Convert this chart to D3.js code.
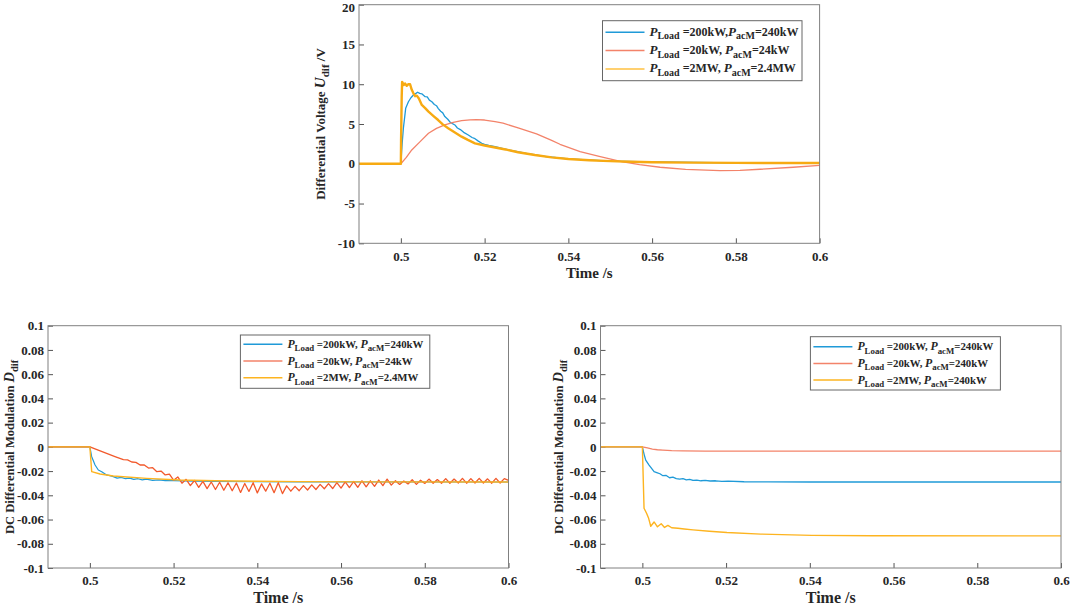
<!DOCTYPE html>
<html>
<head>
<meta charset="utf-8">
<script src="https://cdn.jsdelivr.net/npm/d3@7"></script>
<style>
body { margin: 0; background: #fff; }
text { font-family: "Liberation Serif", "Times New Roman", serif; font-weight: bold; fill: #262626; }
</style>
</head>
<body>
<script>

/* ticks */
var timeTicks = [0.5, 0.52, 0.54, 0.56, 0.58, 0.6];
var voltTicks = [-10, -5, 0, 5, 10, 15, 20];
var dutyTicks = [-0.1, -0.08, -0.06, -0.04, -0.02, 0, 0.02, 0.04, 0.06, 0.08, 0.1];

/* legend text: [P_Load, P_acM] */
var legendTop = [["200kW", "240kW"], ["20kW", "24kW"], ["2MW", "2.4MW"]];
var legendLeft = [["200kW", "240kW"], ["20kW", "24kW"], ["2MW", "2.4MW"]];
var legendRight = [["200kW", "240kW"], ["20kW", "240kW"], ["2MW", "240kW"]];

/* top chart: differential voltage U_dif (V) */
var uBlueT = [0.49, 0.5, 0.5003, 0.5006, 0.50115, 0.5018, 0.5024, 0.503, 0.5036, 0.504, 0.5045, 0.505, 0.5058, 0.5063, 0.5068, 0.5074, 0.508, 0.5085, 0.5089, 0.5095, 0.51, 0.5105, 0.5112, 0.5118, 0.5129, 0.5135, 0.5142, 0.515, 0.5161, 0.517, 0.5177, 0.5185, 0.5193, 0.52, 0.521, 0.5225, 0.5244, 0.526, 0.53, 0.535, 0.54, 0.55, 0.56, 0.58, 0.6];
var uBlueV = [0, 0, 2.5, 4.46, 6.97, 7.8, 8.3, 8.65, 8.85, 8.99, 8.85, 8.8, 8.44, 8.4, 8.0, 7.8, 7.45, 7.3, 6.97, 6.6, 6.4, 5.93, 5.6, 5.2, 4.88, 4.5, 4.3, 3.95, 3.62, 3.3, 3.15, 2.85, 2.57, 2.45, 2.3, 2.15, 1.9, 1.7, 1.3, 0.88, 0.62, 0.34, 0.22, 0.12, 0.1];

var uRedT = [0.49, 0.5, 0.5013, 0.5026, 0.5046, 0.5066, 0.5085, 0.5105, 0.5125, 0.5145, 0.5165, 0.518, 0.52, 0.5225, 0.5244, 0.528, 0.5324, 0.536, 0.538, 0.5428, 0.5476, 0.5527, 0.557, 0.5619, 0.568, 0.5762, 0.581, 0.5858, 0.5937, 0.6];
var uRedV = [0, 0, 0.8, 1.74, 2.78, 3.83, 4.45, 4.88, 5.2, 5.42, 5.53, 5.56, 5.5, 5.3, 5.1, 4.5, 3.75, 2.95, 2.45, 1.52, 0.9, 0.27, -0.12, -0.44, -0.7, -0.86, -0.82, -0.69, -0.44, -0.19];

var uYellowT = [0.49, 0.5, 0.50005, 0.5002, 0.5003, 0.5007, 0.501, 0.5014, 0.5018, 0.5022, 0.5026, 0.503, 0.5034, 0.5038, 0.5043, 0.505, 0.5058, 0.5066, 0.5078, 0.5089, 0.51, 0.5113, 0.513, 0.5145, 0.516, 0.5177, 0.52, 0.5225, 0.525, 0.528, 0.532, 0.536, 0.54, 0.545, 0.55, 0.555, 0.56, 0.57, 0.58, 0.59, 0.6];
var uYellowV = [0, 0, 3, 8.5, 10.3, 9.9, 10.1, 9.8, 10.0, 10.0, 9.3, 8.86, 8.5, 8.57, 8.2, 7.4, 7.0, 6.55, 6.0, 5.5, 4.95, 4.46, 3.9, 3.41, 3.0, 2.57, 2.3, 2.05, 1.8, 1.45, 1.1, 0.8, 0.6, 0.45, 0.33, 0.26, 0.2, 0.14, 0.11, 0.1, 0.1];

/* bottom left: D_dif, different loads and P_acM */
var dLBlueT = [0.49, 0.5, 0.50044, 0.50124, 0.50202, 0.50283, 0.504, 0.5048, 0.5056, 0.5065, 0.5075, 0.5085, 0.5095, 0.5105, 0.5115, 0.5125, 0.5135, 0.515, 0.5165, 0.518, 0.52, 0.525, 0.53, 0.54, 0.55, 0.6];
var dLBlueV = [0, 0, -0.0081, -0.015, -0.0191, -0.0205, -0.0232, -0.0238, -0.0246, -0.0258, -0.0252, -0.0263, -0.0258, -0.0268, -0.0263, -0.0272, -0.0267, -0.0276, -0.0272, -0.0279, -0.0278, -0.0283, -0.0286, -0.0288, -0.0289, -0.029];

var dLRedT = [0.49, 0.5, 0.502, 0.504, 0.506, 0.508, 0.509, 0.51, 0.511, 0.512, 0.513, 0.514, 0.515, 0.516, 0.517, 0.518, 0.519,
  0.52, 0.521, 0.522, 0.523, 0.524, 0.525, 0.526, 0.527, 0.528, 0.529,
  0.53, 0.531, 0.532, 0.533, 0.534, 0.535, 0.536, 0.537, 0.538, 0.539,
  0.54, 0.541, 0.542, 0.543, 0.544, 0.545, 0.546, 0.547, 0.548, 0.549,
  0.55, 0.551, 0.552, 0.553, 0.554, 0.555, 0.556, 0.557, 0.558, 0.559,
  0.56, 0.561, 0.562, 0.563, 0.564, 0.565, 0.566, 0.567, 0.568, 0.569,
  0.57, 0.571, 0.572, 0.573, 0.574, 0.575, 0.576, 0.577, 0.578, 0.579,
  0.58, 0.581, 0.582, 0.583, 0.584, 0.585, 0.586, 0.587, 0.588, 0.589,
  0.59, 0.591, 0.592, 0.593, 0.594, 0.595, 0.596, 0.597, 0.598, 0.599, 0.6];
var dLRedV = [0, 0, -0.0027, -0.0054, -0.008, -0.0105, -0.0108, -0.0125, -0.0128, -0.015, -0.015, -0.0175, -0.0172, -0.0205, -0.02, -0.0232, -0.0225,
  -0.0275, -0.0248, -0.03, -0.0268, -0.032, -0.0278, -0.0335, -0.0285, -0.0345, -0.029,
  -0.0352, -0.0292, -0.0358, -0.0296, -0.0362, -0.0298, -0.0376, -0.0302, -0.0368, -0.0296,
  -0.038, -0.0306, -0.0366, -0.03, -0.0378, -0.0296, -0.0386, -0.0322, -0.0366, -0.0326,
  -0.0362, -0.032, -0.0356, -0.0314, -0.0352, -0.031, -0.0346, -0.0304, -0.0344, -0.0296,
  -0.034, -0.029, -0.0336, -0.0286, -0.0334, -0.028, -0.033, -0.028, -0.0326, -0.0274,
  -0.032, -0.0266, -0.0316, -0.028, -0.031, -0.0282, -0.0306, -0.0272, -0.031, -0.0276,
  -0.0302, -0.0266, -0.03, -0.027, -0.03, -0.0262, -0.03, -0.0266, -0.0298, -0.026,
  -0.03, -0.0262, -0.0298, -0.026, -0.0298, -0.0264, -0.03, -0.026, -0.0298, -0.0262, -0.0276];

var dLYellowT = [0.49, 0.5, 0.50044, 0.50242, 0.5056, 0.51358, 0.52153, 0.53, 0.54, 0.55, 0.57, 0.6];
var dLYellowV = [0, 0, -0.0205, -0.0224, -0.0241, -0.026, -0.0274, -0.028, -0.0284, -0.0287, -0.0289, -0.029];

/* bottom right: D_dif, same P_acM */
var dRBlueT = [0.49, 0.5, 0.5004, 0.5008, 0.5016, 0.5028, 0.5036, 0.5042, 0.5049, 0.5057, 0.5065, 0.5073, 0.5081, 0.5089, 0.5097, 0.5105, 0.5113, 0.5121, 0.513, 0.514, 0.515, 0.5162, 0.5175, 0.519, 0.5205, 0.5243, 0.53, 0.54, 0.6];
var dRBlueV = [0, 0, -0.006, -0.011, -0.015, -0.0205, -0.0214, -0.0222, -0.0238, -0.0236, -0.0255, -0.025, -0.0262, -0.0266, -0.0262, -0.0272, -0.0268, -0.0277, -0.0274, -0.028, -0.0277, -0.0282, -0.028, -0.0285, -0.0283, -0.0288, -0.0289, -0.029, -0.029];

var dRRedT = [0.49, 0.5, 0.5012, 0.5024, 0.5036, 0.5049, 0.507, 0.5097, 0.515, 0.6];
var dRRedV = [0, 0, -0.0009, -0.0019, -0.0024, -0.0027, -0.0031, -0.0033, -0.0035, -0.0035];

var dRYellowT = [0.49, 0.5, 0.5004, 0.501, 0.5015, 0.502, 0.5028, 0.5036, 0.5045, 0.5053, 0.5061, 0.507, 0.5085, 0.51, 0.5121, 0.516, 0.5202, 0.5283, 0.5405, 0.555, 0.6];
var dRYellowV = [0, 0, -0.0507, -0.0548, -0.059, -0.0655, -0.062, -0.066, -0.0635, -0.0665, -0.0648, -0.0668, -0.0672, -0.0678, -0.0685, -0.0697, -0.0707, -0.072, -0.0731, -0.0734, -0.0735];

var blue = "#1f9ad8";
var salmon = "#f3836a";
var orangeRed = "#f2592c";
var yellow = "#fdb420";

var svg = d3.select("body").append("svg")
  .attr("width", 1072)
  .attr("height", 605);

function fmt(d) {
  return String(+d.toFixed(2));
}

function styleAxis(g) {
  g.select(".domain").remove();
  g.selectAll(".tick line").attr("stroke", "#555");
  g.selectAll(".tick text")
    .style("font-size", "13px")
    .style("font-family", "'Liberation Serif', serif")
    .style("font-weight", "bold")
    .attr("fill", "#262626");
}

function drawPanel(p) {
  var x = d3.scaleLinear().domain([0.49, 0.6]).range([p.left, p.right]);
  var y = d3.scaleLinear().domain(p.yDomain).range([p.bottom, p.top]);

  svg.append("g")
    .attr("transform", "translate(0," + p.bottom + ")")
    .call(d3.axisBottom(x).tickValues(timeTicks).tickSize(-5).tickPadding(8).tickFormat(fmt))
    .call(styleAxis);

  var yAxisGroup = svg.append("g")
    .attr("transform", "translate(" + p.left + ",0)")
    .call(d3.axisLeft(y).tickValues(p.ticks).tickSize(-5).tickPadding(4).tickFormat(fmt))
    .call(styleAxis);

  /* keep the top tick label inside the page */
  if (p.nudgeTop) {
    yAxisGroup.selectAll(".tick text")
      .filter(function (d) { return d === p.yDomain[1]; })
      .attr("dy", "0.5em");
  }

  /* curves */
  var line = d3.line()
    .x(function (d) { return x(d[0]); })
    .y(function (d) { return y(d[1]); });

  p.series.forEach(function (s) {
    svg.append("path")
      .datum(d3.zip(s.t, s.v))
      .attr("fill", "none")
      .attr("stroke", s.color)
      .attr("stroke-width", s.width)
      .attr("stroke-linejoin", "round")
      .attr("d", line);
  });

  /* box */
  svg.append("rect")
    .attr("x", p.left).attr("y", p.top)
    .attr("width", p.right - p.left).attr("height", p.bottom - p.top)
    .attr("fill", "none").attr("stroke", "#808080").attr("stroke-width", 1);

  /* x label */
  svg.append("text")
    .attr("x", (p.left + p.right) / 2)
    .attr("y", p.xLabelY)
    .attr("text-anchor", "middle")
    .style("font-size", p.xLabelSize + "px")
    .text("Time /s");

  /* y label */
  var yl = svg.append("text")
    .attr("transform", "translate(" + p.yLabelX + "," + (p.top + p.bottom) / 2 + ") rotate(-90)")
    .attr("text-anchor", "middle")
    .style("font-size", p.yLabelSize + "px");
  yl.append("tspan").text(p.yLabel + " ");
  yl.append("tspan").style("font-style", "italic").style("font-size", (p.yLabelSize + 2) + "px").text(p.yVar);
  yl.append("tspan").attr("dy", 4).style("font-size", (p.yLabelSize - 2) + "px").text("dif");
  if (p.yUnit) {
    yl.append("tspan").attr("dy", -4).text(" " + p.yUnit);
  }

  /* legend */
  var L = p.legend;
  svg.append("rect")
    .attr("x", L.x).attr("y", L.y).attr("width", L.w).attr("height", L.h)
    .attr("fill", "#fff").attr("stroke", "#666").attr("stroke-width", 1);
  L.rows.forEach(function (r, i) {
    var ry = L.y + L.first + i * L.step;
    svg.append("line")
      .attr("x1", L.x + 3).attr("x2", L.x + 42)
      .attr("y1", ry).attr("y2", ry)
      .attr("stroke", p.series[i].legendColor || p.series[i].color)
      .attr("stroke-width", 1.5);
    var t = svg.append("text")
      .attr("x", L.x + 47)
      .attr("y", ry + 3.5)
      .style("font-size", L.font + "px");
    t.append("tspan").style("font-style", "italic").style("font-size", (L.font + 1) + "px").text("P");
    t.append("tspan").attr("dy", 3.5).style("font-size", (L.font - 2) + "px").text("Load");
    t.append("tspan").attr("dy", -3.5).text(" =" + r[0] + "," + (L.gap[i] ? " " : ""));
    t.append("tspan").style("font-style", "italic").style("font-size", (L.font + 1) + "px").text("P");
    t.append("tspan").attr("dy", 3.5).style("font-size", (L.font - 2) + "px").text("acM");
    t.append("tspan").attr("dy", -3.5).text("=" + r[1]);
  });
}

drawPanel({
  left: 359, right: 819.6, top: 4.7, bottom: 243.3,
  yDomain: [-10, 20], ticks: voltTicks, nudgeTop: true,
  xLabelY: 278, xLabelSize: 15, yLabelX: 324.5, yLabelSize: 13,
  yLabel: "Differential Voltage", yVar: "U", yUnit: "/V",
  series: [
    { t: uBlueT, v: uBlueV, color: blue, width: 1.3 },
    { t: uRedT, v: uRedV, color: salmon, width: 1.3 },
    { t: uYellowT, v: uYellowV, color: "#f7aa12", width: 2.4, legendColor: "#ffc040" }
  ],
  legend: { x: 602.5, y: 20.7, w: 199.5, h: 60, first: 11.6, step: 18.3, font: 12, rows: legendTop, gap: [false, true, true] }
});

drawPanel({
  left: 48, right: 508.5, top: 325.7, bottom: 568,
  yDomain: [-0.1, 0.1], ticks: dutyTicks,
  xLabelY: 603, xLabelSize: 16, yLabelX: 13.5, yLabelSize: 12.5,
  yLabel: "DC Differential Modulation", yVar: "D", yUnit: "",
  series: [
    { t: dLBlueT, v: dLBlueV, color: blue, width: 1.2 },
    { t: dLRedT, v: dLRedV, color: orangeRed, width: 1.3, legendColor: salmon },
    { t: dLYellowT, v: dLYellowV, color: yellow, width: 1.4 }
  ],
  legend: { x: 240.4, y: 335, w: 189.4, h: 53.3, first: 9.3, step: 16.7, font: 10.8, rows: legendLeft, gap: [true, true, true] }
});

drawPanel({
  left: 600.5, right: 1061, top: 325.7, bottom: 568,
  yDomain: [-0.1, 0.1], ticks: dutyTicks,
  xLabelY: 603, xLabelSize: 16, yLabelX: 563, yLabelSize: 12.5,
  yLabel: "DC Differential Modulation", yVar: "D", yUnit: "",
  series: [
    { t: dRBlueT, v: dRBlueV, color: blue, width: 1.3 },
    { t: dRRedT, v: dRRedV, color: salmon, width: 1.4 },
    { t: dRYellowT, v: dRYellowV, color: yellow, width: 1.4 }
  ],
  legend: { x: 810.4, y: 336.7, w: 190, h: 53.3, first: 10, step: 16.7, font: 10.8, rows: legendRight, gap: [true, true, true] }
});

</script>
</body>
</html>
